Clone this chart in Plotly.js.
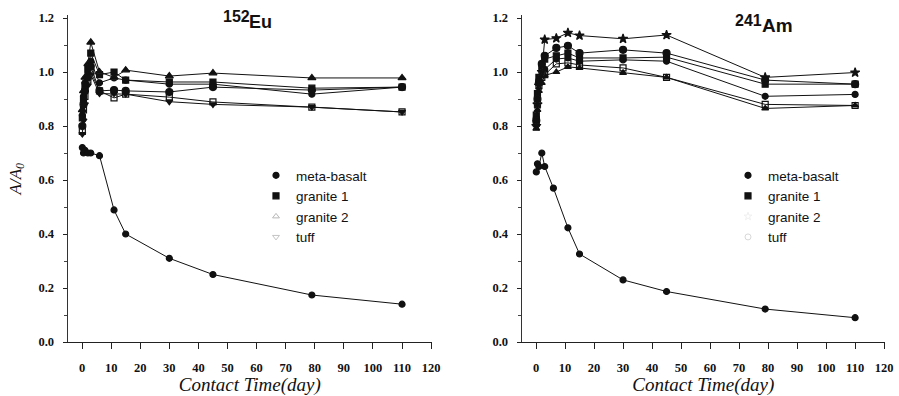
<!DOCTYPE html>
<html>
<head>
<meta charset="utf-8">
<script src="https://cdn.plot.ly/plotly-3.0.1.min.js"></script>
<style>html,body{margin:0;padding:0;background:#fff;}#chart{width:899px;height:396px;}</style>
</head>
<body>
<div id="chart"></div>
<script>
// ---------- data ----------
const days = [0.1, 0.5, 1, 2, 3, 6, 11, 15, 30, 45, 79, 110];
const amDays = [0.1, 0.5, 1, 2, 3, 7, 11, 15, 30, 45, 79, 110];
const amBasaltDays = [0.1, 0.5, 1, 2, 3, 6, 11, 15, 30, 45, 79, 110];

// 152Eu
const euMetaBasalt = [0.72, 0.70, 0.71, 0.70, 0.70, 0.69, 0.489, 0.40, 0.31, 0.25, 0.174, 0.14];
const euGranite2   = [0.86, 0.93, 0.98, 1.03, 1.11, 1.00, 0.98, 1.007, 0.985, 0.996, 0.978, 0.978];
const euGranite1   = [0.83, 0.90, 0.95, 1.01, 1.07, 0.99, 1.00, 0.97, 0.963, 0.963, 0.94, 0.944];
const euSetB1      = [0.84, 0.91, 0.96, 0.99, 1.04, 0.96, 0.978, 0.97, 0.955, 0.955, 0.918, 0.944];
const euTuff       = [0.80, 0.88, 0.93, 0.98, 1.02, 0.93, 0.933, 0.93, 0.926, 0.944, 0.933, 0.944];
const euSetB2      = [0.78, 0.86, 0.91, 0.97, 1.00, 0.93, 0.904, 0.918, 0.907, 0.889, 0.87, 0.852];
const euSetB3      = [0.77, 0.82, 0.88, 0.95, 0.99, 0.92, 0.92, 0.918, 0.89, 0.88, 0.87, 0.852];

// 241Am
const amMetaBasalt = [0.63, 0.66, 0.65, 0.70, 0.65, 0.57, 0.423, 0.326, 0.23, 0.187, 0.122, 0.09];
const amGranite2   = [0.80, 0.88, 0.95, 1.00, 1.12, 1.125, 1.145, 1.135, 1.123, 1.137, 0.98, 0.998];
const amTuff       = [0.82, 0.90, 0.96, 1.03, 1.06, 1.089, 1.097, 1.07, 1.082, 1.07, 0.97, 0.955];
const amGranite1   = [0.84, 0.92, 0.98, 1.02, 1.048, 1.06, 1.07, 1.052, 1.052, 1.055, 0.955, 0.955];
const amSetB1      = [0.83, 0.91, 0.97, 1.00, 1.01, 1.048, 1.052, 1.04, 1.045, 1.04, 0.91, 0.917];
const amSetB2      = [0.81, 0.88, 0.95, 0.98, 0.99, 1.03, 1.034, 1.026, 1.015, 0.98, 0.88, 0.876];
const amSetB3      = [0.79, 0.86, 0.93, 0.96, 0.987, 1.00, 1.019, 1.015, 0.997, 0.98, 0.865, 0.876];

const legendNames = ['meta-basalt', 'granite 1', 'granite 2', 'tuff'];
const xTicks = [0, 10, 20, 30, 40, 50, 60, 70, 80, 90, 100, 110, 120];
const yTicks = [0.0, 0.2, 0.4, 0.6, 0.8, 1.0, 1.2];
const panelTitles = [['152', 'Eu'], ['241', 'Am']];

// ---------- traces ----------
const traces = [];
// legMode: 'solid' -> the plotted markers carry the legend entry;
//          'faint' -> a faint symbol (drawn underneath the black markers) carries the legend entry
//          'none'  -> no legend entry
function addSeries(x, y, sym, xa, ya, legend, name, legMode, rank, faintSym, faintColor) {
  traces.push({x: x, y: y, xaxis: xa, yaxis: ya, mode: 'lines', type: 'scatter',
    line: {color: '#111', width: 1}, showlegend: false, hoverinfo: 'skip'});
  if (legMode === 'faint') {
    const fc = faintColor || '#c4c4c4';
    traces.push({x: x, y: y, xaxis: xa, yaxis: ya, mode: 'markers', type: 'scatter',
      name: name, legend: legend, showlegend: true, legendrank: rank,
      marker: {symbol: faintSym, size: 6, color: fc, line: {color: fc, width: 1}}});
  }
  traces.push({x: x, y: y, xaxis: xa, yaxis: ya, mode: 'markers', type: 'scatter',
    name: name, legend: legend, showlegend: legMode === 'solid', legendrank: rank,
    marker: {symbol: sym, size: legMode === 'faint' ? 7 : 6, color: '#111', line: {color: '#111', width: 1.2}}});
}
// Eu panel
addSeries(days, euSetB1, 'circle', 'x', 'y', 'legend', 'set b-1', 'none', 10);
addSeries(days, euSetB2, 'square-open', 'x', 'y', 'legend', 'set b-2', 'none', 10);
addSeries(days, euSetB3, 'triangle-down', 'x', 'y', 'legend', 'set b-3', 'none', 10);
addSeries(days, euMetaBasalt, 'circle', 'x', 'y', 'legend', legendNames[0], 'solid', 1);
addSeries(days, euGranite1, 'square', 'x', 'y', 'legend', legendNames[1], 'solid', 2);
addSeries(days, euGranite2, 'triangle-up', 'x', 'y', 'legend', legendNames[2], 'faint', 3, 'triangle-up-open', '#b8b8b8');
addSeries(days, euTuff, 'circle', 'x', 'y', 'legend', legendNames[3], 'faint', 4, 'triangle-down-open', '#c4c4c4');
// Am panel
addSeries(amDays, amSetB1, 'circle', 'x2', 'y2', 'legend2', 'set b-1', 'none', 10);
addSeries(amDays, amSetB2, 'square-open', 'x2', 'y2', 'legend2', 'set b-2', 'none', 10);
addSeries(amDays, amSetB3, 'triangle-up', 'x2', 'y2', 'legend2', 'set b-3', 'none', 10);
addSeries(amBasaltDays, amMetaBasalt, 'circle', 'x2', 'y2', 'legend2', legendNames[0], 'solid', 1);
addSeries(amDays, amGranite1, 'square', 'x2', 'y2', 'legend2', legendNames[1], 'solid', 2);
addSeries(amDays, amGranite2, 'star', 'x2', 'y2', 'legend2', legendNames[2], 'faint', 3, 'star-open', '#f0f0f0');
addSeries(amDays, amTuff, 'circle', 'x2', 'y2', 'legend2', legendNames[3], 'faint', 4, 'circle-open', '#d8d8d8');

// ---------- layout ----------
const W = 899, H = 396;
const tickFont = {family: 'Liberation Serif, Times New Roman, serif', size: 12.5, color: '#111', weight: 'bold'};
const titleFont = {family: 'Liberation Serif, Times New Roman, serif', size: 19, color: '#111', style: 'italic'};
const yTop = 15.3, yBot = 342;
function xAxis(domain, anchor) {
  return {domain: domain, anchor: anchor, range: [-5, 120.3], tickmode: 'array', tickvals: xTicks,
    ticktext: xTicks.map(String), ticks: 'outside', ticklen: 6, tickcolor: '#222', tickwidth: 1,
    showline: true, linecolor: '#222', linewidth: 1, showgrid: false, zeroline: false,
    tickfont: tickFont, ticklabelstandoff: 8,
    title: {text: 'Contact Time(day)', font: titleFont, standoff: 1}};
}
function yAxis(anchor, withTitle) {
  const ax = {domain: [1 - yBot / H, 1 - yTop / H], anchor: anchor, range: [0, 1.21], tickmode: 'array',
    tickvals: yTicks, ticktext: yTicks.map(v => v.toFixed(1)), ticks: 'outside', ticklen: 4,
    tickcolor: '#222', minor: {dtick: 0.1, ticks: 'outside', ticklen: 3, tickcolor: '#444'},
    showline: true, linecolor: '#333', linewidth: 1, showgrid: false, zeroline: false,
    tickfont: tickFont, ticklabelstandoff: 6};
  if (withTitle) ax.title = {text: 'A/A<sub>0</sub>', font: {family: titleFont.family, size: 17, color: '#111', style: 'italic'}, standoff: 12};
  return ax;
}
const legFont = {family: 'Liberation Sans, Arial, sans-serif', size: 13.5, color: '#111'};
const layout = {
  width: W, height: H, margin: {l: 0, r: 0, t: 0, b: 0},
  paper_bgcolor: '#fff', plot_bgcolor: '#fff', showlegend: true,
  xaxis: xAxis([67.5 / W, 432 / W], 'y'),
  yaxis: yAxis('x', true),
  xaxis2: xAxis([521.5 / W, 885 / W], 'y2'),
  yaxis2: yAxis('x2', false),
  legend: {x: 256 / W, y: 1 - 160 / H, xanchor: 'left', yanchor: 'top', bgcolor: 'rgba(0,0,0,0)',
    font: legFont, tracegroupgap: 0, itemwidth: 30},
  legend2: {x: 728 / W, y: 1 - 160 / H, xanchor: 'left', yanchor: 'top', bgcolor: 'rgba(0,0,0,0)',
    font: legFont, tracegroupgap: 0, itemwidth: 30},
  annotations: [
    {xref: 'paper', yref: 'paper', x: 222 / W, y: 1 - 16 / H, xanchor: 'left', yanchor: 'middle', showarrow: false, borderpad: 0,
      text: panelTitles[0][0], font: {family: 'Liberation Sans, Arial, sans-serif', size: 16, color: '#111', weight: 'bold'}},
    {xref: 'paper', yref: 'paper', x: 248 / W, y: 1 - 22 / H, xanchor: 'left', yanchor: 'middle', showarrow: false, borderpad: 0,
      text: panelTitles[0][1], font: {family: 'Liberation Sans, Arial, sans-serif', size: 18, color: '#111', weight: 'bold'}},
    {xref: 'paper', yref: 'paper', x: 734 / W, y: 1 - 21 / H, xanchor: 'left', yanchor: 'middle', showarrow: false, borderpad: 0,
      text: panelTitles[1][0], font: {family: 'Liberation Sans, Arial, sans-serif', size: 16, color: '#111', weight: 'bold'}},
    {xref: 'paper', yref: 'paper', x: 761 / W, y: 1 - 26 / H, xanchor: 'left', yanchor: 'middle', showarrow: false, borderpad: 0,
      text: panelTitles[1][1], font: {family: 'Liberation Sans, Arial, sans-serif', size: 19, color: '#111', weight: 'bold'}}
  ]
};
Plotly.newPlot('chart', traces, layout, {staticPlot: true, displayModeBar: false});
</script>
</body>
</html>
